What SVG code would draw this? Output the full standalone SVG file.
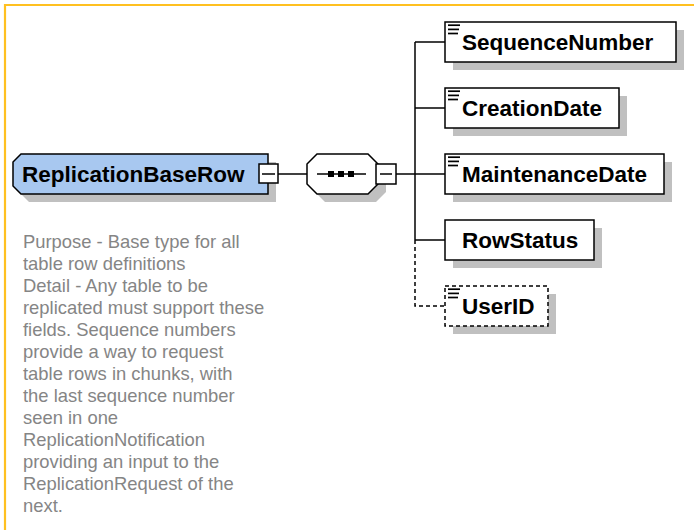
<svg xmlns="http://www.w3.org/2000/svg" width="694" height="530" viewBox="0 0 694 530">
<style>
.shadow{fill:#c0c0c0;stroke:none}
.box{fill:#ffffff;stroke:#000000;stroke-width:1.5}
.opt{stroke-dasharray:4,3}
.lbl{font-family:"Liberation Sans",Arial,sans-serif;font-weight:bold;font-size:22.5px;fill:#000000}
.desc{font-family:"Liberation Sans",Arial,sans-serif;font-size:18.4px;fill:#858585}
.ln{stroke:#000000;stroke-width:1.5;fill:none}
.icon{stroke:#000000;stroke-width:1.7}
</style>
<rect x="0" y="0" width="694" height="530" fill="#ffffff"/>
<path d="M5,530 L5,5 L694,5" fill="none" stroke="#ffc020" stroke-width="2.2"/>

<g id="connectors">
<line class="ln" x1="277" y1="174" x2="307" y2="174"/>
<line class="ln" x1="396" y1="174" x2="445" y2="174"/>
<line class="ln" x1="415" y1="42" x2="415" y2="240"/>
<line class="ln" x1="415" y1="42" x2="445" y2="42"/>
<line class="ln" x1="415" y1="108" x2="445" y2="108"/>
<line class="ln" x1="415" y1="240" x2="445" y2="240"/>
<path class="ln opt" d="M415,240 L415,306 L445,306"/>
</g>

<g id="ReplicationBaseRow">
<path class="shadow" transform="translate(8,8)" d="M21,154 L268,154 L268,194 L21,194 L13,186 L13,162 Z"/>
<path d="M21,154 L268,154 L268,194 L21,194 L13,186 L13,162 Z" fill="#a8c8f0" stroke="#000000" stroke-width="1.5"/>
<text class="lbl" x="22" y="182">ReplicationBaseRow</text>
<rect class="box" x="259" y="164" width="19" height="19"/>
<line class="ln" x1="262" y1="174" x2="275" y2="174"/>
</g>

<g id="sequence">
<path class="shadow" transform="translate(8,8)" d="M317,154 L368,154 L378,164 L378,184 L368,194 L317,194 L307,184 L307,164 Z"/>
<path class="box" d="M317,154 L368,154 L378,164 L378,184 L368,194 L317,194 L307,184 L307,164 Z"/>
<line class="ln" x1="317" y1="174" x2="366" y2="174"/>
<rect x="328" y="171" width="6" height="6" fill="#000000"/>
<rect x="338" y="171" width="6" height="6" fill="#000000"/>
<rect x="348" y="171" width="6" height="6" fill="#000000"/>
<rect class="box" x="376" y="164" width="20" height="20"/>
<line class="ln" x1="380" y1="174" x2="392" y2="174"/>
</g>

<g id="SequenceNumber">
<rect class="shadow" x="453" y="30" width="231" height="40"/>
<rect class="box" x="445" y="22" width="231" height="40"/>
<line class="icon" x1="448" y1="25.2" x2="460" y2="25.2"/>
<line class="icon" x1="448" y1="29.4" x2="459" y2="29.4"/>
<line class="icon" x1="448" y1="33.5" x2="458" y2="33.5"/>
<text class="lbl" x="462" y="50">SequenceNumber</text>
</g>

<g id="CreationDate">
<rect class="shadow" x="453" y="96" width="174" height="40"/>
<rect class="box" x="445" y="88" width="174" height="40"/>
<line class="icon" x1="448" y1="91.2" x2="460" y2="91.2"/>
<line class="icon" x1="448" y1="95.4" x2="459" y2="95.4"/>
<line class="icon" x1="448" y1="99.5" x2="458" y2="99.5"/>
<text class="lbl" x="462" y="116">CreationDate</text>
</g>

<g id="MaintenanceDate">
<rect class="shadow" x="453" y="162" width="219" height="40"/>
<rect class="box" x="445" y="154" width="219" height="40"/>
<line class="icon" x1="448" y1="157.2" x2="460" y2="157.2"/>
<line class="icon" x1="448" y1="161.4" x2="459" y2="161.4"/>
<line class="icon" x1="448" y1="165.5" x2="458" y2="165.5"/>
<text class="lbl" x="462" y="182">MaintenanceDate</text>
</g>

<g id="RowStatus">
<rect class="shadow" x="453" y="228" width="149" height="40"/>
<rect class="box" x="445" y="220" width="149" height="40"/>
<text class="lbl" x="462" y="248">RowStatus</text>
</g>

<g id="UserID">
<rect class="shadow" x="453" y="294" width="103" height="40"/>
<rect class="box opt" x="445" y="286" width="103" height="40"/>
<line class="icon" x1="448" y1="289.2" x2="460" y2="289.2"/>
<line class="icon" x1="448" y1="293.4" x2="459" y2="293.4"/>
<line class="icon" x1="448" y1="297.5" x2="458" y2="297.5"/>
<text class="lbl" x="462" y="314">UserID</text>
</g>

<g id="description">
<text class="desc" x="23" y="248">Purpose - Base type for all</text>
<text class="desc" x="23" y="270">table row definitions</text>
<text class="desc" x="23" y="292">Detail - Any table to be</text>
<text class="desc" x="23" y="314">replicated must support these</text>
<text class="desc" x="23" y="336">fields. Sequence numbers</text>
<text class="desc" x="23" y="358">provide a way to request</text>
<text class="desc" x="23" y="380">table rows in chunks, with</text>
<text class="desc" x="23" y="402">the last sequence number</text>
<text class="desc" x="23" y="424">seen in one</text>
<text class="desc" x="23" y="446">ReplicationNotification</text>
<text class="desc" x="23" y="468">providing an input to the</text>
<text class="desc" x="23" y="490">ReplicationRequest of the</text>
<text class="desc" x="23" y="512">next.</text>
</g>
</svg>
